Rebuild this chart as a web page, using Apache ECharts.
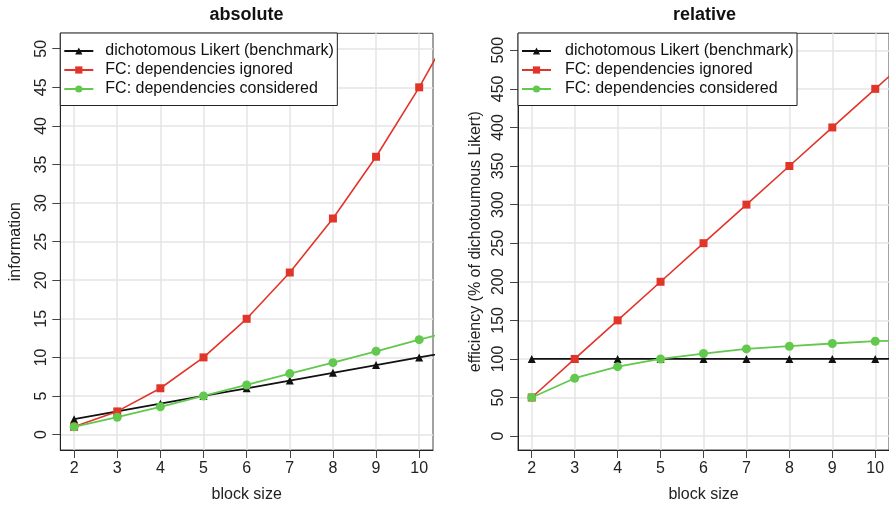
<!DOCTYPE html>
<html>
<head>
<meta charset="utf-8">
<title>Information and efficiency by block size</title>
<script src="https://cdn.jsdelivr.net/npm/echarts@6/dist/echarts.min.js"></script>
<style>
  html, body { margin: 0; padding: 0; background: #fff; }
  #chart { width: 889px; height: 508px; }
</style>
</head>
<body>
<div id="chart"></div>
<script>
// Block sizes (the last one lies past the visible x range; its segment is clipped at the frame)
const blockSize = [2, 3, 4, 5, 6, 7, 8, 9, 10, 11];

// Absolute information
const absLikert     = [2, 3, 4, 5, 6, 7, 8, 9, 10, 11];
const absIgnored    = [1, 3, 6, 10, 15, 21, 28, 36, 45, 55];
const absConsidered = [1, 2.25, 3.6, 5, 6.43, 7.9, 9.32, 10.79, 12.3, 13.7];

// Relative efficiency (% of dichotomous Likert)
const relLikert     = [100, 100, 100, 100, 100, 100, 100, 100, 100, 100];
const relIgnored    = [50, 100, 150, 200, 250, 300, 350, 400, 450, 500];
const relConsidered = [50, 75, 90, 100, 107, 113, 116.5, 120, 123, 124.5];

const seriesNames = [
  'dichotomous Likert (benchmark)',
  'FC: dependencies ignored',
  'FC: dependencies considered'
];
const xTicks = [2, 3, 4, 5, 6, 7, 8, 9, 10];
const yTicksAbs = [0, 5, 10, 15, 20, 25, 30, 35, 40, 45, 50];
const yTicksRel = [0, 50, 100, 150, 200, 250, 300, 350, 400, 450, 500];

const FONT = '"Liberation Sans", Arial, Helvetica, sans-serif';
const RED = '#E2352A';
const GREEN = '#62C84E';
const BLACK = '#111111';

function pairs(xs, ys) {
  return xs.map((x, i) => [x, ys[i]]);
}

function xAxisFor(gridIndex) {
  return {
    type: 'value',
    gridIndex: gridIndex,
    min: 1.68,
    max: 10.32,
    name: 'block size',
    nameLocation: 'middle',
    nameGap: 37,
    nameTextStyle: { fontFamily: FONT, fontSize: 16, color: '#222' },
    axisLine: { show: true, onZero: false, lineStyle: { color: '#222', width: 1 } },
    axisTick: { show: true, length: 8, customValues: xTicks, lineStyle: { color: '#444', width: 1 } },
    axisLabel: { customValues: xTicks, margin: 11, fontFamily: FONT, fontSize: 16, color: '#222' },
    splitLine: { show: true, lineStyle: { color: '#E5E5E5', width: 1.5 } }
  };
}

function yAxisFor(gridIndex, min, max, ticks, name, gap) {
  return {
    type: 'value',
    gridIndex: gridIndex,
    min: min,
    max: max,
    name: name,
    nameLocation: 'middle',
    nameGap: gap,
    nameRotate: 90,
    nameTextStyle: { fontFamily: FONT, fontSize: 16, color: '#222' },
    axisLine: { show: true, onZero: false, lineStyle: { color: '#222', width: 1 } },
    axisTick: { show: true, length: 8, customValues: ticks, lineStyle: { color: '#444', width: 1 } },
    axisLabel: { customValues: ticks, rotate: 90, margin: 11, fontFamily: FONT, fontSize: 16, color: '#222' },
    splitLine: { show: true, lineStyle: { color: '#E5E5E5', width: 1.5 } }
  };
}

function lineSeries(name, idx, data, color, symbol, size, width) {
  return {
    type: 'line',
    name: name,
    xAxisIndex: idx,
    yAxisIndex: idx,
    data: data,
    clip: true,
    symbol: symbol,
    symbolSize: size,
    showAllSymbol: true,
    animation: false,
    itemStyle: { color: color },
    lineStyle: { color: color, width: width },
    emphasis: { disabled: true }
  };
}

function legendFor(left, textGap) {
  return {
    data: seriesNames,
    orient: 'vertical',
    left: left,
    top: 33,
    itemWidth: 29,
    itemHeight: 9,
    itemGap: 1,
    padding: [9, 3.5, 7.5, 3],
    borderColor: '#222',
    borderWidth: 1,
    backgroundColor: '#ffffff',
    selectedMode: false,
    textStyle: { fontFamily: FONT, fontSize: 16, lineHeight: 18, color: '#111', padding: [0, 0, 0, textGap] }
  };
}

const chart = echarts.init(document.getElementById('chart'), null, { renderer: 'canvas' });

chart.setOption({
  animation: false,
  backgroundColor: '#ffffff',
  graphic: [
    { type: 'text', x: 246.6, y: 15, style: { text: 'absolute', align: 'center', verticalAlign: 'middle', font: 'bold 18px ' + FONT, fill: '#111' } },
    { type: 'text', x: 704.5, y: 15, style: { text: 'relative', align: 'center', verticalAlign: 'middle', font: 'bold 18px ' + FONT, fill: '#111' } }
  ],
  grid: [
    { left: 60.3, top: 33.3, width: 372.7, height: 417.7, show: true, borderColor: '#444', borderWidth: 1, containLabel: false },
    { left: 518, top: 33.3, width: 373, height: 417.7, show: true, borderColor: '#444', borderWidth: 1, containLabel: false }
  ],
  legend: [legendFor(60.3, 7), legendFor(518, 9)],
  xAxis: [xAxisFor(0), xAxisFor(1)],
  yAxis: [
    yAxisFor(0, -2, 52, yTicksAbs, 'information', 37),
    yAxisFor(1, -18, 522, yTicksRel, 'efficiency (% of dichotoumous Likert)', 34)
  ],
  series: [
    lineSeries(seriesNames[0], 0, pairs(blockSize, absLikert), BLACK, 'triangle', 8, 1.8),
    lineSeries(seriesNames[1], 0, pairs(blockSize, absIgnored), RED, 'rect', 8, 1.6),
    lineSeries(seriesNames[2], 0, pairs(blockSize, absConsidered), GREEN, 'circle', 9, 1.8),
    lineSeries(seriesNames[0], 1, pairs(blockSize, relLikert), BLACK, 'triangle', 8, 1.8),
    lineSeries(seriesNames[1], 1, pairs(blockSize, relIgnored), RED, 'rect', 8, 1.6),
    lineSeries(seriesNames[2], 1, pairs(blockSize, relConsidered), GREEN, 'circle', 9, 1.8)
  ]
});
</script>
</body>
</html>
